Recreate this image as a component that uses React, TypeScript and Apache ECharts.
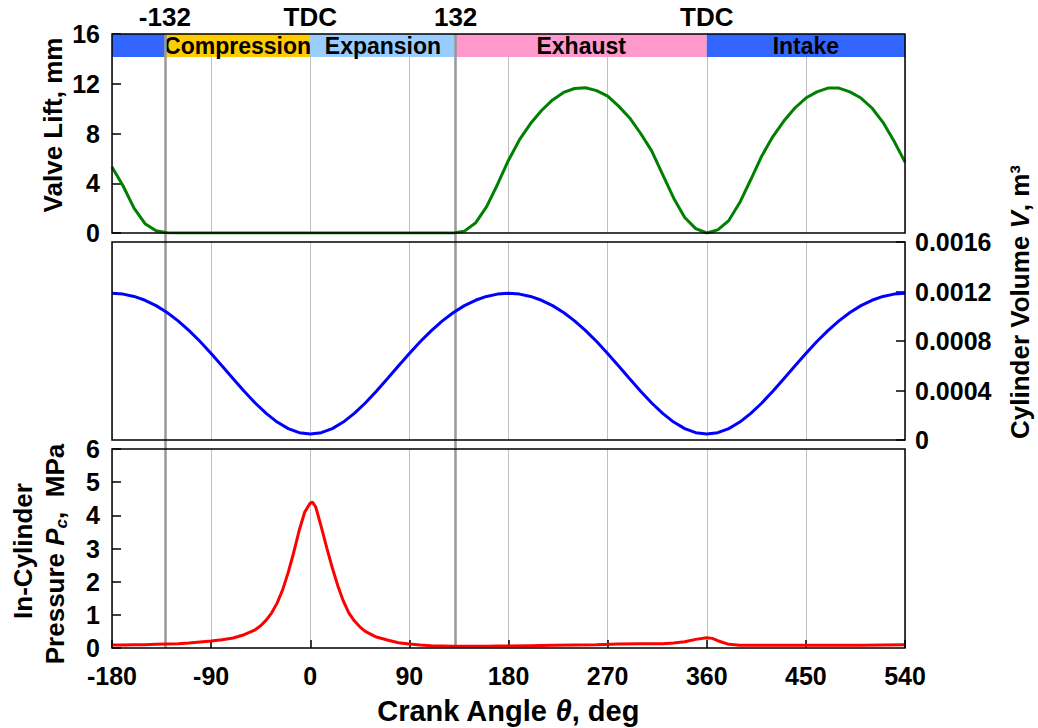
import React, { useEffect, useRef } from 'react';
import * as echarts from 'echarts';

// ---------- data ----------
const X_MIN = -180;
const X_MAX = 540;
const X_STEP = 90;

const liftAngles = [
  -180, -170, -160, -150, -140, -130, -120, -110, -100, -90, -80, -70, -60, -50, -40, -30, -20, -10,
  0, 10, 20, 30, 40, 50, 60, 70, 80, 90, 100, 110, 120, 130, 140, 150, 160, 170, 180, 190, 200, 210,
  220, 230, 240, 250, 260, 270, 280, 290, 300, 310, 320, 330, 340, 350, 360, 370, 380, 390, 400, 410,
  420, 430, 440, 450, 460, 470, 480, 490, 500, 510, 520, 530, 540,
];
const liftValues = [
  5.3, 3.8, 2.0, 0.75, 0.18, 0.02, 0, 0, 0, 0, 0, 0, 0, 0, 0, 0, 0, 0,
  0, 0, 0, 0, 0, 0, 0, 0, 0, 0, 0, 0, 0, 0, 0.15, 0.8, 2.1, 3.9, 5.85, 7.5, 8.8, 9.85,
  10.7, 11.3, 11.62, 11.68, 11.45, 11.0, 10.2, 9.25, 8.0, 6.6, 4.7, 2.8, 1.25, 0.35, 0.0, 0.25, 1.0, 2.45, 4.3, 6.2,
  7.75, 9.0, 10.05, 10.85, 11.35, 11.65, 11.65, 11.35, 10.85, 10.05, 8.9, 7.4, 5.7,
];

const volumeAngles = liftAngles;
const volumeValues = [
  0.001185, 0.001179, 0.00116, 0.001129, 0.001086, 0.00103, 0.000963, 0.000884, 0.000796, 0.000699,
  0.000598, 0.000495, 0.000394, 0.000299, 0.000215, 0.000145, 0.000092, 0.000059,
  0.000048, 0.000059, 0.000092, 0.000145, 0.000215, 0.000299, 0.000394, 0.000495, 0.000598, 0.000699,
  0.000796, 0.000884, 0.000963, 0.00103, 0.001086, 0.001129, 0.00116, 0.001179,
  0.001185, 0.001179, 0.00116, 0.001129, 0.001086, 0.00103, 0.000963, 0.000884, 0.000796, 0.000699,
  0.000598, 0.000495, 0.000394, 0.000299, 0.000215, 0.000145, 0.000092, 0.000059,
  0.000048, 0.000059, 0.000092, 0.000145, 0.000215, 0.000299, 0.000394, 0.000495, 0.000598, 0.000699,
  0.000796, 0.000884, 0.000963, 0.00103, 0.001086, 0.001129, 0.00116, 0.001179, 0.001185,
];

const pressureAngles = [
  -180, -170, -160, -150, -140, -130, -120, -110, -100, -90, -80, -70, -60, -50, -45, -40, -35, -30,
  -25, -20, -15, -10, -5, 0, 2, 5, 10, 15, 20, 25, 30, 35, 40, 45, 50, 60, 70, 80, 90, 100, 110, 120,
  130, 140, 150, 160, 170, 180, 200, 220, 240, 260, 280, 300, 320, 330, 340, 350, 360, 365, 370, 380,
  390, 400, 420, 440, 460, 480, 500, 520, 540,
];
const pressureValues = [
  0.09, 0.09, 0.1, 0.1, 0.11, 0.12, 0.13, 0.15, 0.18, 0.21, 0.25, 0.3, 0.4, 0.55, 0.67, 0.84, 1.06, 1.36,
  1.76, 2.28, 2.88, 3.55, 4.1, 4.37, 4.4, 4.25, 3.65, 3.02, 2.42, 1.88, 1.42, 1.06, 0.82, 0.64, 0.5, 0.33, 0.24, 0.16, 0.12, 0.09, 0.07, 0.06,
  0.05, 0.05, 0.05, 0.05, 0.06, 0.06, 0.07, 0.08, 0.09, 0.1, 0.12, 0.13, 0.13, 0.15, 0.19, 0.26, 0.31, 0.29, 0.22, 0.11,
  0.08, 0.08, 0.08, 0.08, 0.08, 0.08, 0.08, 0.09, 0.1,
];

const phaseNames = ['', 'Compression', 'Expansion', 'Exhaust', 'Intake'];
const phaseStarts = [-180, -132, 0, 132, 360];
const phaseEnds = [-132, 0, 132, 360, 540];
const phaseColors = ['#3366FF', '#FFCC00', '#99CCFF', '#FF99CC', '#3366FF'];
const PHASE_BAND_BOTTOM = 14.15;
const LIFT_MAX = 16;

const markerAngles = [-132, 0, 132, 360];
const markerLabels = ['-132', 'TDC', '132', 'TDC'];
const markerDrawn = [true, false, true, false];

const zip = (xs: number[], ys: number[]) => xs.map((x, i) => [x, ys[i]]);

export default function App() {
  const ref = useRef<HTMLDivElement>(null);
  useEffect(() => {
    document.body.style.margin = '0';
    const chart = echarts.init(ref.current!, null, { renderer: 'svg' });
    const FONT = '"Liberation Sans", Arial, Helvetica, sans-serif';
    const gridBase = { left: 112, width: 793, show: true, borderColor: '#000', borderWidth: 1.5, backgroundColor: 'transparent', z: 10 };
    const tickLabel = { fontSize: 25, fontWeight: 'bold', color: '#000', fontFamily: FONT };
    const mkX = (i: number) => ({
      type: 'value', gridIndex: i, min: X_MIN, max: X_MAX, interval: X_STEP,
      axisLine: { show: false, onZero: false },
      axisTick: { show: i === 2, inside: true, length: 8, lineStyle: { color: '#000', width: 1.5 } },
      axisLabel: { show: i === 2, margin: 15, ...tickLabel },
      splitLine: { show: true, lineStyle: { color: '#c0c0c0', width: 1 } },
    });
    const mkY = (i: number, min: number, max: number, interval: number, extra: any = {}) => ({
      type: 'value', gridIndex: i, min, max, interval,
      axisLine: { show: false, onZero: false },
      axisTick: { show: true, inside: true, length: 9, lineStyle: { color: '#000', width: 1.5 } },
      axisLabel: { margin: 12, ...tickLabel, ...(extra.axisLabel || {}) },
      splitLine: { show: false },
      ...(extra.position ? { position: extra.position } : {}),
    });

    const option: any = {
      animation: false,
      backgroundColor: '#fff',
      grid: [
        { ...gridBase, top: 34, height: 199 },
        { ...gridBase, top: 242, height: 198 },
        { ...gridBase, top: 449, height: 199 },
        { left: 112, width: 793, top: 34, height: 614, show: false },
      ],
      xAxis: [mkX(0), mkX(1), mkX(2), { type: 'value', gridIndex: 3, min: X_MIN, max: X_MAX, show: false }],
      yAxis: [
        mkY(0, 0, LIFT_MAX, 4),
        mkY(1, 0, 0.0016, 0.0004, {
          position: 'right',
          axisLabel: { margin: 10, formatter: (v: number) => (v === 0 ? '0' : v.toFixed(4)) },
        }),
        mkY(2, 0, 6, 1),
        { type: 'value', gridIndex: 3, min: 0, max: 1, show: false },
      ],
      series: [
        {
          type: 'line', xAxisIndex: 0, yAxisIndex: 0, data: zip(liftAngles, liftValues),
          symbol: 'none', z: 5, lineStyle: { color: '#008000', width: 3 },
          markArea: {
            silent: true,
            label: { show: true, position: 'inside', fontSize: 23, fontWeight: 'bold', color: '#000', fontFamily: FONT },
            data: phaseNames.map((n, i) => [
              { name: n, xAxis: phaseStarts[i], yAxis: PHASE_BAND_BOTTOM, itemStyle: { color: phaseColors[i], opacity: 1 } },
              { xAxis: phaseEnds[i], yAxis: LIFT_MAX },
            ]),
          },
        },
        {
          type: 'line', xAxisIndex: 1, yAxisIndex: 1, data: zip(volumeAngles, volumeValues),
          symbol: 'none', z: 5, lineStyle: { color: '#0000FF', width: 3 },
        },
        {
          type: 'line', xAxisIndex: 2, yAxisIndex: 2, data: zip(pressureAngles, pressureValues),
          symbol: 'none', z: 5, lineStyle: { color: '#FF0000', width: 3 },
        },
        {
          type: 'line', xAxisIndex: 3, yAxisIndex: 3, data: [[X_MIN, -1]], symbol: 'none', z: 1,
          lineStyle: { opacity: 0 },
          markLine: {
            silent: true, symbol: ['none', 'none'],
            label: { show: true, position: 'end', distance: 4, fontSize: 26, fontWeight: 'bold', color: '#000', fontFamily: FONT },
            data: markerAngles.map((a, i) => ({
              xAxis: a,
              label: { formatter: markerLabels[i] },
              lineStyle: markerDrawn[i]
                ? { color: '#999999', width: 2.5, type: 'solid' }
                : { color: 'rgba(0,0,0,0)', width: 0, type: 'solid' },
            })),
          },
        },
      ],
      graphic: [
        {
          type: 'text', x: 53, y: 125, rotation: Math.PI / 2,
          style: { text: 'Valve Lift, mm', fontSize: 26, fontWeight: 'bold', fontFamily: FONT, fill: '#000', align: 'center', verticalAlign: 'middle' },
        },
        {
          type: 'text', x: 1020, y: 302, rotation: Math.PI / 2,
          style: {
            text: '{n|Cylinder Volume }{i|V}{n|, m³}',
            fontSize: 26, fontWeight: 'bold', fontFamily: FONT, fill: '#000', align: 'center', verticalAlign: 'middle',
            rich: {
              n: { fontSize: 26, fontWeight: 'bold', fontFamily: FONT, fill: '#000' },
              i: { fontSize: 26, fontWeight: 'bold', fontStyle: 'italic', fontFamily: FONT, fill: '#000' },
            },
          },
        },
        {
          type: 'text', x: 23, y: 551, rotation: Math.PI / 2,
          style: { text: 'In-Cylinder', fontSize: 26, fontWeight: 'bold', fontFamily: FONT, fill: '#000', align: 'center', verticalAlign: 'middle' },
        },
        {
          type: 'text', x: 55, y: 554, rotation: Math.PI / 2,
          style: {
            text: '{n|Pressure }{i|P}{s|c}{n|,  MPa}',
            fontSize: 26, fontWeight: 'bold', fontFamily: FONT, fill: '#000', align: 'center', verticalAlign: 'middle',
            rich: {
              n: { fontSize: 26, fontWeight: 'bold', fontFamily: FONT, fill: '#000' },
              i: { fontSize: 26, fontWeight: 'bold', fontStyle: 'italic', fontFamily: FONT, fill: '#000' },
              s: { fontSize: 17, fontWeight: 'bold', fontStyle: 'italic', fontFamily: FONT, fill: '#000', padding: [12, 0, 0, 0] },
            },
          },
        },
        {
          type: 'text', x: 508, y: 711,
          style: {
            text: '{n|Crank Angle }{i|θ}{n|, deg}',
            fontSize: 29, fontWeight: 'bold', fontFamily: FONT, fill: '#000', align: 'center', verticalAlign: 'middle',
            rich: {
              n: { fontSize: 29, fontWeight: 'bold', fontFamily: FONT, fill: '#000' },
              i: { fontSize: 29, fontWeight: 'bold', fontStyle: 'italic', fontFamily: FONT, fill: '#000' },
            },
          },
        },
      ],
    };
    chart.setOption(option);
    return () => chart.dispose();
  }, []);
  return <div ref={ref} style={{ width: 1038, height: 728 }} />;
}
